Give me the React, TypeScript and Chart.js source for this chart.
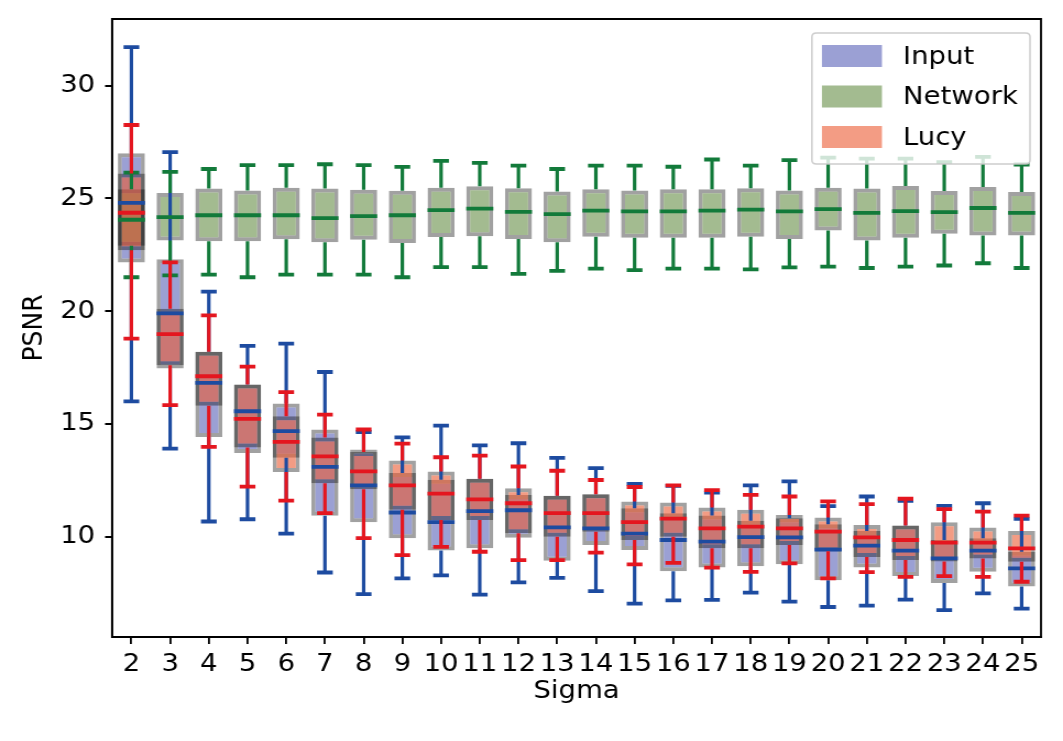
import React, { useEffect, useRef } from "react";
import { Chart, registerables } from "chart.js";

Chart.register(...registerables);

// ---------------- data ----------------
const sigmas = [2, 3, 4, 5, 6, 7, 8, 9, 10, 11, 12, 13, 14, 15, 16, 17, 18, 19, 20, 21, 22, 23, 24, 25];
const yTickValues = [10, 15, 20, 25, 30];

// Input (noisy) PSNR box statistics
const inputLow = [16.0, 13.9, 10.67, 10.77, 10.13, 8.41, 7.45, 8.15, 8.28, 7.43, 7.97, 8.17, 7.58, 7.03, 7.17, 7.2, 7.52, 7.12, 6.88, 6.94, 7.21, 6.74, 7.48, 6.81];
const inputQ1 = [22.15, 17.45, 14.42, 13.71, 13.5, 10.93, 10.64, 9.93, 9.39, 9.48, 9.95, 8.93, 9.63, 9.41, 8.47, 8.63, 8.69, 8.78, 8.07, 8.63, 8.26, 7.94, 8.44, 7.79];
const inputMed = [24.8, 19.9, 16.82, 15.56, 14.68, 13.09, 12.27, 11.07, 10.64, 11.13, 11.17, 10.41, 10.37, 10.13, 9.85, 9.78, 9.98, 9.97, 9.42, 9.6, 9.38, 9.04, 9.38, 8.59];
const inputQ3 = [27.0, 22.3, 18.2, 16.75, 15.9, 14.75, 13.86, 12.82, 12.52, 12.57, 11.85, 11.81, 11.88, 11.26, 11.04, 10.94, 10.7, 10.82, 10.55, 10.25, 10.49, 9.85, 9.93, 9.33];
const inputHigh = [31.7, 27.05, 20.86, 18.46, 18.56, 17.3, 14.64, 14.4, 14.92, 14.05, 14.14, 13.49, 13.04, 12.34, 12.25, 11.95, 12.27, 12.45, 11.35, 11.78, 11.59, 11.36, 11.48, 10.79];

// Network PSNR box statistics
const netLow = [21.5, 21.58, 21.62, 21.5, 21.62, 21.62, 21.62, 21.5, 21.95, 21.95, 21.65, 21.78, 21.88, 21.82, 21.88, 21.88, 21.85, 21.94, 21.97, 21.91, 21.97, 22.02, 22.12, 21.91];
const netQ1 = [22.9, 23.13, 23.1, 23.1, 23.19, 23.05, 23.16, 23.02, 23.28, 23.32, 23.2, 23.05, 23.3, 23.25, 23.25, 23.25, 23.3, 23.2, 23.57, 23.13, 23.25, 23.43, 23.35, 23.35];
const netMed = [24.05, 24.17, 24.25, 24.25, 24.25, 24.12, 24.21, 24.25, 24.48, 24.54, 24.4, 24.3, 24.45, 24.42, 24.42, 24.45, 24.5, 24.42, 24.52, 24.35, 24.43, 24.39, 24.57, 24.35];
const netQ3 = [25.4, 25.23, 25.43, 25.35, 25.47, 25.43, 25.38, 25.34, 25.47, 25.53, 25.45, 25.3, 25.4, 25.35, 25.4, 25.4, 25.45, 25.35, 25.47, 25.43, 25.55, 25.32, 25.5, 25.28];
const netHigh = [26.14, 26.17, 26.3, 26.47, 26.47, 26.51, 26.47, 26.39, 26.66, 26.57, 26.45, 26.3, 26.45, 26.45, 26.4, 26.72, 26.45, 26.69, 26.8, 26.76, 26.76, 26.6, 26.84, 26.5];

// Lucy PSNR box statistics
const lucyLow = [18.78, 15.83, 13.98, 12.22, 11.6, 11.04, 9.93, 9.18, 9.55, 9.33, 8.96, 8.96, 9.29, 8.77, 8.84, 8.63, 8.44, 8.81, 8.15, 8.43, 8.22, 8.25, 8.22, 8.0];
const lucyQ1 = [22.7, 17.6, 15.8, 13.95, 12.86, 12.37, 12.1, 11.19, 10.74, 10.74, 10.15, 10.0, 10.22, 9.85, 10.0, 9.48, 9.48, 9.63, 9.35, 9.1, 8.96, 8.9, 9.03, 8.89];
const lucyMed = [24.36, 18.98, 17.11, 15.22, 14.2, 13.56, 12.89, 12.27, 11.91, 11.65, 11.48, 11.04, 11.04, 10.64, 10.8, 10.37, 10.44, 10.37, 10.22, 9.97, 9.85, 9.73, 9.73, 9.48];
const lucyQ3 = [26.1, 20.1, 18.2, 16.75, 15.34, 14.4, 13.75, 13.37, 12.89, 12.57, 12.15, 11.81, 11.88, 11.56, 11.51, 11.29, 11.19, 10.96, 10.85, 10.52, 10.49, 10.64, 10.4, 10.25];
const lucyHigh = [28.25, 22.16, 19.81, 17.54, 16.41, 15.41, 14.75, 14.12, 13.52, 13.59, 13.11, 12.92, 12.51, 12.2, 12.27, 12.06, 11.85, 11.78, 11.56, 11.44, 11.68, 11.22, 11.11, 10.93];

const FONT = "'DejaVu Sans', 'Liberation Sans', sans-serif";
const TEXT = "#000000";
const FONT_SIZE = 25;
// the reference picture is slightly stretched horizontally: render narrower and stretch
const STRETCH = 1.1;
const W = Math.round(1063 / STRETCH);
const H = 741;

type Series = {
  name: string;
  fill: string;
  line: string;
  low: number[];
  q1: number[];
  med: number[];
  q3: number[];
  high: number[];
};

export default function App() {
  const ref = useRef<HTMLCanvasElement | null>(null);

  useEffect(() => {
    if (!ref.current) return;
    // index 0 is drawn on top in Chart.js, so list in reverse drawing order
    const series: Series[] = [
      { name: "Lucy", fill: "rgba(235,90,50,0.6)", line: "#e4161f", low: lucyLow, q1: lucyQ1, med: lucyMed, q3: lucyQ3, high: lucyHigh },
      { name: "Network", fill: "rgba(102,142,70,0.6)", line: "#127a3a", low: netLow, q1: netQ1, med: netMed, q3: netQ3, high: netHigh },
      { name: "Input", fill: "rgba(88,97,183,0.6)", line: "#1d4ba0", low: inputLow, q1: inputQ1, med: inputMed, q3: inputQ3, high: inputHigh },
    ];
    const drawOrder = ["Input", "Network", "Lucy"];

    const boxExtras = {
      id: "boxExtras",
      afterDatasetsDraw(chart: any) {
        const ctx = chart.ctx as CanvasRenderingContext2D;
        const xs = chart.scales.x;
        const ys = chart.scales.y;
        const area = chart.chartArea;
        ctx.save();
        ctx.beginPath();
        ctx.rect(area.left, area.top, area.right - area.left, area.bottom - area.top);
        ctx.clip();
        ctx.lineCap = "butt";
        drawOrder.forEach((name) => {
          const idx = series.findIndex((q) => q.name === name);
          const s = series[idx];
          const meta = chart.getDatasetMeta(idx);
          ctx.strokeStyle = s.line;
          meta.data.forEach((bar: any, i: number) => {
            const cx = xs.getPixelForValue(i);
            const half = bar.width / 2;
            const capHalf = bar.width * 0.29;
            const yLow = ys.getPixelForValue(s.low[i]);
            const yQ1 = ys.getPixelForValue(s.q1[i]);
            const yMed = ys.getPixelForValue(s.med[i]);
            const yQ3 = ys.getPixelForValue(s.q3[i]);
            const yHigh = ys.getPixelForValue(s.high[i]);
            // whiskers (vertical)
            ctx.lineWidth = 3.5 / STRETCH;
            ctx.beginPath();
            ctx.moveTo(cx, yQ1);
            ctx.lineTo(cx, yLow);
            ctx.moveTo(cx, yQ3);
            ctx.lineTo(cx, yHigh);
            ctx.stroke();
            // caps + median (horizontal)
            ctx.lineWidth = 3.8;
            ctx.beginPath();
            ctx.moveTo(cx - capHalf, yLow);
            ctx.lineTo(cx + capHalf, yLow);
            ctx.moveTo(cx - capHalf, yHigh);
            ctx.lineTo(cx + capHalf, yHigh);
            ctx.moveTo(cx - half, yMed);
            ctx.lineTo(cx + half, yMed);
            ctx.stroke();
          });
        });
        ctx.restore();
      },
      afterDraw(chart: any) {
        const ctx = chart.ctx as CanvasRenderingContext2D;
        const a = chart.chartArea;
        ctx.save();
        // spines
        ctx.strokeStyle = "#000000";
        ctx.lineWidth = 2;
        ctx.beginPath();
        ctx.moveTo(a.left, a.top);
        ctx.lineTo(a.right, a.top);
        ctx.moveTo(a.left, a.bottom);
        ctx.lineTo(a.right, a.bottom);
        ctx.stroke();
        ctx.lineWidth = 2 / STRETCH;
        ctx.beginPath();
        ctx.moveTo(a.left, a.top - 1);
        ctx.lineTo(a.left, a.bottom + 1);
        ctx.moveTo(a.right, a.top - 1);
        ctx.lineTo(a.right, a.bottom + 1);
        ctx.stroke();

        // legend
        const lw = 218 / STRETCH;
        const lx = a.right - 11 / STRETCH - lw;
        const ly = a.top + 14;
        const lh = 131;
        const r = 4;
        ctx.beginPath();
        ctx.moveTo(lx + r, ly);
        ctx.lineTo(lx + lw - r, ly);
        ctx.quadraticCurveTo(lx + lw, ly, lx + lw, ly + r);
        ctx.lineTo(lx + lw, ly + lh - r);
        ctx.quadraticCurveTo(lx + lw, ly + lh, lx + lw - r, ly + lh);
        ctx.lineTo(lx + r, ly + lh);
        ctx.quadraticCurveTo(lx, ly + lh, lx, ly + lh - r);
        ctx.lineTo(lx, ly + r);
        ctx.quadraticCurveTo(lx, ly, lx + r, ly);
        ctx.closePath();
        ctx.fillStyle = "rgba(255,255,255,0.8)";
        ctx.fill();
        ctx.strokeStyle = "rgba(200,200,200,0.9)";
        ctx.lineWidth = 1.5;
        ctx.stroke();

        ctx.font = `${FONT_SIZE}px ${FONT}`;
        ctx.textBaseline = "middle";
        ctx.textAlign = "left";
        drawOrder.forEach((name, k) => {
          const s = series.find((q) => q.name === name)!;
          const cy = ly + 23 + k * 40.5;
          ctx.fillStyle = "#ffffff";
          ctx.fillRect(lx + 10 / STRETCH, cy - 11, 60 / STRETCH, 22);
          ctx.fillStyle = s.fill;
          ctx.fillRect(lx + 10 / STRETCH, cy - 11, 60 / STRETCH, 22);
          ctx.fillStyle = TEXT;
          ctx.fillText(name, lx + 91 / STRETCH, cy + 1);
        });
        ctx.restore();
      },
    };

    const chart = new Chart(ref.current, {
      type: "bar",
      data: {
        labels: sigmas.map(String),
        datasets: series.map((s) => ({
          label: s.name,
          data: s.q1.map((v, i) => [v, s.q3[i]]),
          backgroundColor: s.fill,
          borderColor: "rgba(0,0,0,0.37)",
          borderWidth: { left: 4 / STRETCH, right: 4 / STRETCH, top: 4, bottom: 4 },
          borderSkipped: false,
          inflateAmount: 0,
          grouped: false,
          barPercentage: 0.7,
          categoryPercentage: 1,
        })) as any,
      },
      options: {
        responsive: false,
        animation: false,
        devicePixelRatio: 1,
        layout: { padding: { left: 0, right: Math.round(22 / STRETCH), top: 19, bottom: 0 } },
        plugins: {
          legend: { display: false },
          tooltip: { enabled: false },
        },
        scales: {
          x: {
            type: "category",
            offset: true,
            grid: {
              display: true,
              offset: false,
              drawOnChartArea: false,
              drawTicks: true,
              tickLength: 7,
              tickWidth: 2 / STRETCH,
              color: "#000000",
              lineWidth: 2 / STRETCH,
            },
            border: { display: true, color: "#000000", width: 2 },
            ticks: {
              autoSkip: false,
              maxRotation: 0,
              minRotation: 0,
              padding: 5,
              color: TEXT,
              font: { family: FONT, size: FONT_SIZE },
            },
            title: {
              display: true,
              text: "Sigma",
              color: TEXT,
              font: { family: FONT, size: FONT_SIZE },
              padding: { top: 0, bottom: 35 },
            },
            afterFit: (s: any) => {
              s.height = 104;
              s.paddingLeft = 0;
              s.paddingRight = 0;
            },
          },
          y: {
            type: "linear",
            min: 5.55,
            max: 32.95,
            afterBuildTicks: (s: any) => {
              s.ticks = yTickValues.map((v) => ({ value: v }));
            },
            grid: {
              display: true,
              drawOnChartArea: false,
              drawTicks: true,
              tickLength: 7 / STRETCH,
              tickWidth: 2,
              color: "#000000",
              lineWidth: 2,
            },
            border: { display: true, color: "#000000", width: 2 / STRETCH },
            ticks: {
              padding: 9,
              color: TEXT,
              font: { family: FONT, size: FONT_SIZE },
            },
            title: {
              display: true,
              text: "PSNR",
              color: TEXT,
              font: { family: FONT, size: FONT_SIZE },
              padding: { top: 16, bottom: 0 },
            },
            afterFit: (s: any) => {
              s.width = 112 / STRETCH;
              s.paddingTop = 0;
              s.paddingBottom = 0;
            },
          },
        },
      },
      plugins: [boxExtras],
    } as any);

    return () => {
      chart.destroy();
    };
  }, []);

  return (
    <div style={{ position: "absolute", left: 0, top: 0, width: 1063, height: H, background: "#ffffff", overflow: "hidden" }}>
      <div style={{ width: W, height: H, transform: `scaleX(${1063 / W})`, transformOrigin: "0 0" }}>
        <canvas ref={ref} width={W} height={H} style={{ display: "block" }} />
      </div>
    </div>
  );
}
